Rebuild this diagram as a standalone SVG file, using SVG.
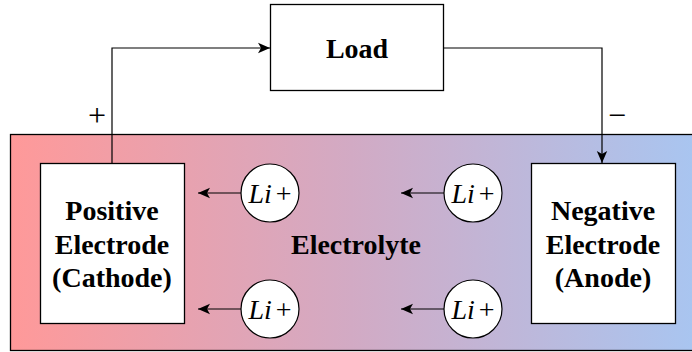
<svg xmlns="http://www.w3.org/2000/svg" width="692" height="352" viewBox="0 0 692 352">
<defs>
<linearGradient id="electrolyteGrad" x1="10" y1="0" x2="692" y2="0" gradientUnits="userSpaceOnUse">
<stop offset="0" stop-color="#FF9999"/>
<stop offset="0.5" stop-color="#D2AAC4"/>
<stop offset="1" stop-color="#A9C5F0"/>
</linearGradient>
<marker id="arrow" markerUnits="userSpaceOnUse" markerWidth="14" markerHeight="12" refX="12" refY="6" orient="auto">
<path d="M0,0.8 L12,6 L0,11.2 L3,6 Z" fill="#000"/>
</marker>
<style>
.box{fill:#fff;stroke:#000;stroke-width:1.3}
.conn{fill:none;stroke:#000;stroke-width:1.2}
.lbl{font-weight:bold;font-size:28px;fill:#000;text-anchor:middle}
.ion{fill:#fff;stroke:#000;stroke-width:1.2}
.iontxt{font-size:28px;fill:#000;text-anchor:middle}
.sign{font-size:32px;fill:#000;text-anchor:middle}
</style>
</defs>
<g font-family="'Liberation Serif', 'DejaVu Serif', serif">
<g id="electrolyte">
<rect x="10.5" y="134.5" width="690" height="216" fill="url(#electrolyteGrad)" stroke="#000" stroke-width="1.3"/>
<text class="lbl" x="356" y="254">Electrolyte</text>
</g>
<g id="connectors">
<path class="conn" d="M112,163 V48 H270" marker-end="url(#arrow)"/>
<path class="conn" d="M443,48 H602 V163" marker-end="url(#arrow)"/>
<path class="conn" d="M241,193 H198" marker-end="url(#arrow)"/>
<path class="conn" d="M241,309 H198" marker-end="url(#arrow)"/>
<path class="conn" d="M444,193 H401" marker-end="url(#arrow)"/>
<path class="conn" d="M444,309 H401" marker-end="url(#arrow)"/>
</g>
<g id="load">
<rect class="box" x="270.5" y="4.5" width="173" height="86"/>
<text class="lbl" x="357" y="58">Load</text>
</g>
<g id="cathode">
<rect class="box" x="40.5" y="163.5" width="144" height="160"/>
<text class="lbl" x="112" y="220">Positive</text>
<text class="lbl" x="112" y="254">Electrode</text>
<text class="lbl" x="112" y="287">(Cathode)</text>
</g>
<g id="anode">
<rect class="box" x="531.5" y="163.5" width="144" height="160"/>
<text class="lbl" x="603" y="220">Negative</text>
<text class="lbl" x="603" y="254">Electrode</text>
<text class="lbl" x="603" y="287">(Anode)</text>
</g>
<g id="ion1">
<circle class="ion" cx="270" cy="193" r="29"/>
<text class="iontxt" x="270" y="203"><tspan font-style="italic">Li</tspan><tspan dx="4">+</tspan></text>
</g>
<g id="ion2">
<circle class="ion" cx="270" cy="309" r="29"/>
<text class="iontxt" x="270" y="319"><tspan font-style="italic">Li</tspan><tspan dx="4">+</tspan></text>
</g>
<g id="ion3">
<circle class="ion" cx="473" cy="193" r="29"/>
<text class="iontxt" x="473" y="203"><tspan font-style="italic">Li</tspan><tspan dx="4">+</tspan></text>
</g>
<g id="ion4">
<circle class="ion" cx="473" cy="309" r="29"/>
<text class="iontxt" x="473" y="319"><tspan font-style="italic">Li</tspan><tspan dx="4">+</tspan></text>
</g>
<g id="signs">
<text class="sign" x="97" y="126">+</text>
<text class="sign" x="617" y="126">−</text>
</g>
</g>
</svg>
